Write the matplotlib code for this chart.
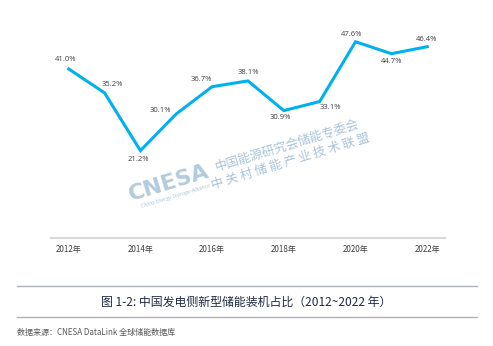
import matplotlib.pyplot as plt

plt.rcParams['font.family'] = ['Open Sans', 'Noto Sans CJK SC', 'DejaVu Sans']

# 新型储能占比 (%)
years = ['2012年', '2013年', '2014年', '2015年', '2016年', '2017年',
         '2018年', '2019年', '2020年', '2021年', '2022年']
share = [41.0, 35.2, 21.2, 30.1, 36.7, 38.1, 30.9, 33.1, 47.6, 44.7, 46.4]

# label offsets (pixels) so the values sit clear of the line
offsets = [(-3, 9), (8, 8), (-2, -9), (-16, 3), (-11, 7), (0, 8),
           (-4, -7), (11, -6), (-4, 7), (0, -8), (-1, 7)]

fig = plt.figure(figsize=(4.93, 3.46), dpi=100)
ax = fig.add_axes([0.103, 0.312, 0.800, 0.596])

x = list(range(len(years)))
ax.plot(x, share, color='#00B0F0', lw=2.2, solid_joinstyle='miter')
ax.set_xlim(-0.5, len(years) - 0.5)
ax.set_ylim(0, 50)

for i, v in enumerate(share):
    ax.annotate(f'{v:.1f}%', (i, v), xytext=offsets[i], textcoords='offset pixels',
                ha='center', va='center', fontsize=5.5, color='#404040')

ax.set_xticks(x[::2])
ax.set_xticklabels(years[::2], fontsize=5.8, color='#404040',
                   family=['Noto Sans CJK SC'])
ax.tick_params(axis='x', length=0, pad=5)
ax.set_yticks([])
for s in ['top', 'right', 'left']:
    ax.spines[s].set_visible(False)
ax.spines['bottom'].set_color('#D9D9D9')
ax.spines['bottom'].set_linewidth(1.5)

# watermark
wm = '#A9C3D9'
fig.text(169 / 493, 1 - 183 / 346, 'CNESA', fontsize=16, fontweight='bold', color='#B2CBDF',
         rotation=17, ha='center', va='center', family=['DejaVu Sans'])
fig.text(176 / 493, 1 - 196 / 346, 'China Energy Storage Alliance', fontsize=4,
         color=wm, rotation=17, ha='center', va='center', style='italic')
fig.text(287 / 493, 1 - 145 / 346, '中国能源研究会储能专委会', fontsize=9,
         color=wm, rotation=17, ha='center', va='center', family=['Noto Sans CJK SC'])
fig.text(291 / 493, 1 - 161 / 346, '中 关 村 储 能 产 业 技 术 联 盟', fontsize=9,
         color=wm, rotation=17, ha='center', va='center', family=['Noto Sans CJK SC'])

# caption block
for yy in [286, 317]:
    fig.add_artist(plt.Line2D([17 / 493, 477 / 493], [1 - yy / 346] * 2,
                              color='#AEB2BA', lw=1.0))
fig.text(0.5, 1 - 302 / 346, '图 1-2: 中国发电侧新型储能装机占比（2012~2022 年）',
         ha='center', va='center', fontsize=8.6, color='#1F2A44',
         family=['Noto Sans CJK SC'])
fig.text(17 / 493, 1 - 332 / 346, '数据来源：CNESA DataLink 全球储能数据库',
         ha='left', va='center', fontsize=5.8, color='#595959',
         family=['Noto Sans CJK SC'])

fig.savefig('out.png', dpi=100)
